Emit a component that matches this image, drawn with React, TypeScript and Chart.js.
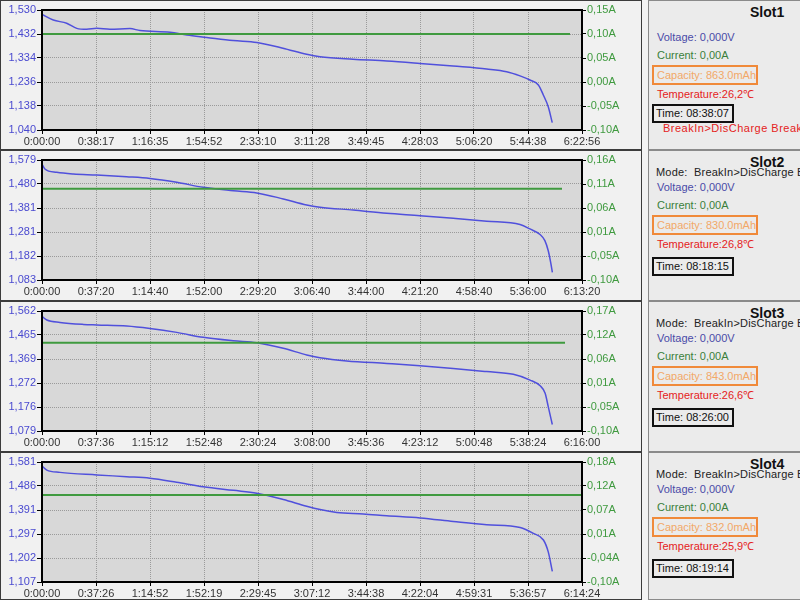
import React, { useEffect, useRef } from 'react';
import { Chart, registerables } from 'chart.js';

Chart.register(...registerables);

const FONT = "'Liberation Sans', Arial, sans-serif";

// ---- Data (time in seconds, voltage in V, current in A) ----
const slot1Time = [0, 480, 1050, 1480, 1900, 2330, 2890, 3740, 4170, 5450, 6160, 7010, 8130, 9140, 10250, 11260, 11830, 13230, 14670, 16080, 17490, 18920, 19770, 20340, 20760, 21120, 21330, 21540, 21710];
const slot1Volt = [1.512, 1.489, 1.476, 1.455, 1.451, 1.455, 1.451, 1.454, 1.446, 1.439, 1.428, 1.418, 1.405, 1.397, 1.374, 1.349, 1.339, 1.329, 1.322, 1.312, 1.301, 1.289, 1.278, 1.261, 1.244, 1.224, 1.183, 1.135, 1.070];

const slot2Time = [0, 120, 610, 1300, 2270, 3510, 4480, 5590, 6690, 7940, 8910, 10010, 10980, 11530, 12910, 14300, 15680, 17060, 18450, 19830, 20240, 20660, 20860, 21000, 21100, 21170];
const slot2Volt = [1.562, 1.542, 1.528, 1.521, 1.517, 1.510, 1.503, 1.487, 1.466, 1.452, 1.443, 1.418, 1.393, 1.384, 1.372, 1.359, 1.349, 1.338, 1.326, 1.312, 1.294, 1.271, 1.246, 1.204, 1.156, 1.115];

const slot3Time = [0, 200, 750, 1730, 2290, 3540, 4510, 5630, 6740, 7990, 8970, 10080, 11060, 11610, 12730, 14400, 15790, 17180, 18580, 19690, 20390, 20810, 21020, 21150, 21320];
const slot3Volt = [1.540, 1.526, 1.516, 1.508, 1.506, 1.502, 1.492, 1.476, 1.456, 1.442, 1.434, 1.412, 1.385, 1.374, 1.361, 1.351, 1.342, 1.331, 1.318, 1.307, 1.284, 1.261, 1.231, 1.177, 1.105];

const slot4Time = [0, 200, 750, 2280, 3520, 4490, 5600, 6710, 7960, 8930, 10040, 11010, 11570, 12260, 13370, 14340, 15730, 17110, 18500, 19890, 20440, 20860, 21060, 21230];
const slot4Volt = [1.565, 1.549, 1.540, 1.530, 1.523, 1.517, 1.501, 1.483, 1.469, 1.458, 1.433, 1.406, 1.393, 1.382, 1.376, 1.369, 1.360, 1.346, 1.333, 1.322, 1.299, 1.273, 1.226, 1.149];

const slot1CurTime = [0, 0, 22465];
const slot1Cur = [0, 0.1, 0.1];
const slot2CurTime = [0, 0, 21570];
const slot2Cur = [0, 0.1, 0.1];
const slot3CurTime = [0, 0, 21850];
const slot3Cur = [0, 0.1, 0.1];
const slot4CurTime = [0, 0, 22430];
const slot4Cur = [0, 0.1, 0.1];

// axis ranges
const timeMax = [22976, 22400, 22560, 22464];
const voltMin = [1.040, 1.083, 1.079, 1.107];
const voltMax = [1.530, 1.579, 1.562, 1.581];
const ampMin = [-0.10, -0.10, -0.10, -0.10];
const ampMax = [0.15, 0.163, 0.172, 0.176];

// side panel texts
const slotNames = ['Slot1', 'Slot2', 'Slot3', 'Slot4'];
const voltageTexts = ['0,000V', '0,000V', '0,000V', '0,000V'];
const currentTexts = ['0,00A', '0,00A', '0,00A', '0,00A'];
const capacityTexts = ['863.0mAh', '830.0mAh', '843.0mAh', '832.0mAh'];
const temperatureTexts = ['26,2', '26,8', '26,6', '25,9'];
const timeTexts = ['08:38:07', '08:18:15', '08:26:00', '08:19:14'];
const modeText = 'BreakIn>DisCharge BreakIn';

const voltTimes = [slot1Time, slot2Time, slot3Time, slot4Time];
const voltVals = [slot1Volt, slot2Volt, slot3Volt, slot4Volt];
const curTimes = [slot1CurTime, slot2CurTime, slot3CurTime, slot4CurTime];
const curVals = [slot1Cur, slot2Cur, slot3Cur, slot4Cur];

const ROW_TOPS = [0, 150, 301, 452];
const ROW_HEIGHTS = [150, 151, 151, 148];

function fmtTime(v: number) {
  const s = Math.floor(v + 1e-6);
  const h = Math.floor(s / 3600);
  const m = Math.floor((s % 3600) / 60);
  const sec = s % 60;
  return `${h}:${String(m).padStart(2, '0')}:${String(sec).padStart(2, '0')}`;
}

function fmtVolt(v: number) {
  return v.toFixed(3).replace('.', ',');
}

function fmtAmp(v: number) {
  const x = Math.abs(v) < 1e-9 ? 0 : v;
  return x.toFixed(2).replace('.', ',') + 'A';
}

const framePlugin = {
  id: 'frame',
  beforeDraw(chart: any) {
    const { ctx, chartArea: a } = chart;
    ctx.save();
    ctx.fillStyle = '#d8d8d8';
    ctx.fillRect(a.left, a.top, a.right - a.left, a.bottom - a.top);
    ctx.restore();
  },
  afterDraw(chart: any) {
    const { ctx, chartArea: a } = chart;
    ctx.save();
    ctx.strokeStyle = '#000';
    ctx.lineWidth = 2;
    ctx.strokeRect(a.left, a.top, a.right - a.left, a.bottom - a.top);
    ctx.restore();
  },
};

function evenTicks(min: number, max: number, n: number) {
  const out: { value: number }[] = [];
  for (let i = 0; i <= n; i++) out.push({ value: min + ((max - min) * i) / n });
  return out;
}

function SlotChart({ idx }: { idx: number }) {
  const ref = useRef<HTMLCanvasElement>(null);
  useEffect(() => {
    const tMax = timeMax[idx];
    const vMin = voltMin[idx];
    const vMax = voltMax[idx];
    const aMin = ampMin[idx];
    const aMax = ampMax[idx];
    const chart = new Chart(ref.current!, {
      type: 'line',
      data: {
        datasets: [
          {
            label: 'Current',
            data: curTimes[idx].map((t, i) => ({ x: t, y: curVals[idx][i] })),
            yAxisID: 'y1',
            borderColor: '#3f9a3f',
            borderWidth: 2,
            pointRadius: 0,
            tension: 0,
          },
          {
            label: 'Voltage',
            data: voltTimes[idx].map((t, i) => ({ x: t, y: voltVals[idx][i] })),
            yAxisID: 'y',
            borderColor: '#5050dc',
            borderWidth: 1.5,
            pointRadius: 0,
            cubicInterpolationMode: 'monotone',
          },
        ],
      },
      options: {
        animation: false,
        responsive: false,
        maintainAspectRatio: false,
        devicePixelRatio: 1,
        events: [],
        layout: { padding: { top: 10, left: 0, right: 0, bottom: 0 } },
        plugins: { legend: { display: false }, tooltip: { enabled: false } },
        scales: {
          x: {
            type: 'linear',
            min: 0,
            max: tMax,
            afterBuildTicks: (s: any) => { s.ticks = evenTicks(0, tMax, 10); },
            afterFit: (s: any) => { s.height = 20; },
            ticks: {
              autoSkip: false,
              maxRotation: 0,
              minRotation: 0,
              color: '#333',
              padding: 1,
              font: { family: FONT, size: 11 },
              callback: (v: any) => fmtTime(Number(v)),
            },
            grid: { color: '#9a9a9a', tickLength: 4, tickColor: '#000', tickBorderDash: [] },
            border: { display: false, dash: [1, 1] },
          },
          y: {
            position: 'left',
            min: vMin,
            max: vMax,
            afterBuildTicks: (s: any) => { s.ticks = evenTicks(vMin, vMax, 5); },
            afterFit: (s: any) => { s.width = 42; },
            ticks: {
              color: '#4a4ad0',
              padding: 1,
              font: { family: FONT, size: 11 },
              callback: (v: any) => fmtVolt(Number(v)),
            },
            grid: { color: '#9a9a9a', tickLength: 5, tickColor: '#000', tickBorderDash: [] },
            border: { display: false, dash: [1, 1] },
          },
          y1: {
            position: 'right',
            min: aMin,
            max: aMax,
            afterBuildTicks: (s: any) => { s.ticks = evenTicks(aMin, aMax, 5); },
            afterFit: (s: any) => { s.width = 60; },
            ticks: {
              color: '#3f9a3f',
              padding: 1,
              font: { family: FONT, size: 11 },
              callback: (v: any) => fmtAmp(Number(v)),
            },
            grid: { drawOnChartArea: false, tickLength: 4, tickColor: '#000' },
            border: { display: false },
          },
        },
      } as any,
      plugins: [framePlugin],
    });
    return () => chart.destroy();
  }, [idx]);
  return (
    <canvas
      ref={ref}
      width={642}
      height={150}
      style={{ position: 'absolute', left: 0, top: ROW_TOPS[idx], width: 642, height: 150 }}
    />
  );
}

function InfoPanel({ idx }: { idx: number }) {
  const top = ROW_TOPS[idx];
  const h = ROW_HEIGHTS[idx];
  const line = (t: number, color: string, content: React.ReactNode, extra: any = {}) => (
    <div
      style={{
        position: 'absolute',
        left: 8,
        top: t,
        height: 13,
        lineHeight: '13px',
        fontSize: 11,
        color,
        whiteSpace: 'pre',
        ...extra,
      }}
    >
      {content}
    </div>
  );
  const timeTop = idx === 0 ? 103 : 106;
  return (
    <div
      style={{
        position: 'absolute',
        left: 648,
        top,
        width: 160,
        height: h,
        boxSizing: 'border-box',
        border: '1px solid #8a8a8a',
        background: '#ebebeb',
        overflow: 'hidden',
        fontFamily: FONT,
      }}
    >
      <div
        style={{
          position: 'absolute',
          left: 101,
          top: 3,
          fontSize: 14,
          lineHeight: '16px',
          fontWeight: 'bold',
          color: '#111',
        }}
      >
        {slotNames[idx]}
      </div>
      {idx > 0 && line(15, '#222', `Mode:  ${modeText}`, { fontSize: 11, left: 7, letterSpacing: '0.2px' })}
      {line(30, '#4a4aa8', `Voltage: ${voltageTexts[idx]}`)}
      {line(48, '#3a7f3a', `Current: ${currentTexts[idx]}`)}
      <div
        style={{
          position: 'absolute',
          left: 3,
          top: 64,
          width: 106,
          height: 20,
          boxSizing: 'border-box',
          border: '2px solid #f08a3a',
          fontSize: 11,
          lineHeight: '16px',
          paddingLeft: 3,
          color: '#f2a868',
          whiteSpace: 'pre',
        }}
      >
        {`Capacity: ${capacityTexts[idx]}`}
      </div>
      {line(87, '#e52222', `Temperature:${temperatureTexts[idx]}\u2103`)}
      <div
        style={{
          position: 'absolute',
          left: 3,
          top: timeTop,
          width: 82,
          height: 19,
          boxSizing: 'border-box',
          border: '2px solid #111',
          fontSize: 11,
          lineHeight: '15px',
          paddingLeft: 2,
          color: '#111',
          whiteSpace: 'pre',
        }}
      >
        {`Time: ${timeTexts[idx]}`}
      </div>
      {idx === 0 && line(121, '#e52222', modeText, { left: 14, fontSize: 11, letterSpacing: '0.5px' })}
    </div>
  );
}

export default function App() {
  return (
    <div
      style={{
        position: 'fixed',
        left: 0,
        top: 0,
        width: 800,
        height: 600,
        overflow: 'hidden',
        background: '#f3f3f3',
        fontFamily: FONT,
      }}
    >
      {[0, 1, 2, 3].map((i) => (
        <div
          key={'f' + i}
          style={{
            position: 'absolute',
            left: 0,
            top: ROW_TOPS[i],
            width: 642,
            height: ROW_HEIGHTS[i],
            boxSizing: 'border-box',
            border: '1px solid #3c3c3c',
            background: '#f1f1f1',
          }}
        />
      ))}
      {[0, 1, 2, 3].map((i) => (
        <SlotChart key={'c' + i} idx={i} />
      ))}
      {[0, 1, 2, 3].map((i) => (
        <InfoPanel key={'p' + i} idx={i} />
      ))}
    </div>
  );
}
